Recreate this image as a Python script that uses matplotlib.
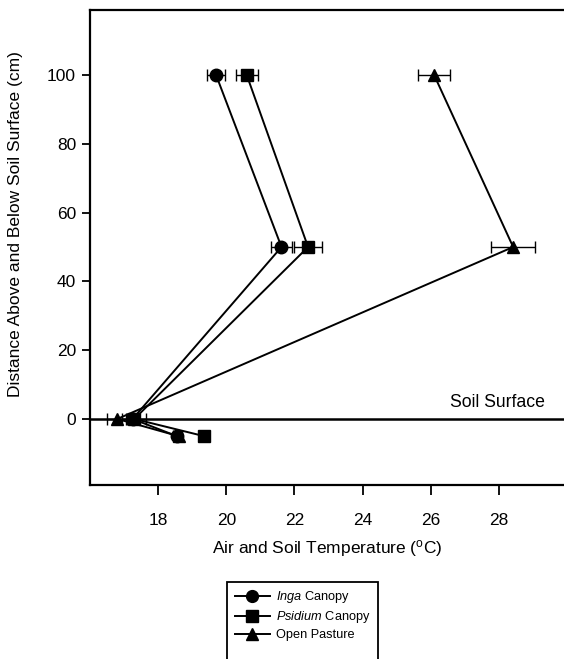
import matplotlib
matplotlib.use("Agg")
import matplotlib.pyplot as plt
from matplotlib.lines import Line2D
from matplotlib.patches import Rectangle

plt.rcParams['font.family'] = ['Liberation Sans', 'DejaVu Sans']
plt.rcParams['mathtext.fontset'] = 'custom'
plt.rcParams['mathtext.it'] = 'Liberation Sans:italic'
plt.rcParams['mathtext.rm'] = 'Liberation Sans'

depth = [100, 50, 0, -5]
inga = [19.7, 21.62, 17.25, 18.55]
inga_err = [0.26, 0.3, 0.2, 0.1]
psidium = [20.6, 22.4, 17.3, 19.35]
psidium_err = [0.32, 0.4, 0.35, 0.1]
pasture = [26.1, 28.42, 16.8, 18.6]
pasture_err = [0.48, 0.65, 0.3, 0.1]

xticks = [18, 20, 22, 24, 26, 28]
yticks = [0, 20, 40, 60, 80, 100]

W, H = 564, 659
fig = plt.figure(figsize=(W / 100, H / 100), dpi=100)
ax = fig.add_axes([90 / W, 1 - 485 / H, 477 / W, 475 / H])

series = [
    (inga, inga_err, 'o'),
    (psidium, psidium_err, 's'),
    (pasture, pasture_err, '^'),
]
handles = []
for vals, err, mk in series:
    ax.errorbar(vals, depth, xerr=err, color='black', marker=mk,
                markersize=9, lw=1.4, capsize=4, elinewidth=1.0,
                capthick=1.0, zorder=3)
    handles.append(Line2D([], [], color='black', marker=mk, markersize=8.5, lw=1.4))

ax.axhline(0, color='black', lw=1.8, zorder=2)
ax.text(29.34, 2.3, 'Soil Surface', ha='right', va='bottom', fontsize=12.7)

ax.set_xlim(16, 30)
ax.set_ylim(-19.2, 118.9)
ax.set_xticks(xticks)
ax.set_yticks(yticks)
ax.tick_params(axis='x', direction='out', length=7, width=1.3, labelsize=12.5, pad=13)
ax.tick_params(axis='y', direction='out', length=6, width=1.3, labelsize=12.5, pad=4)
for s in ax.spines.values():
    s.set_linewidth(1.6)
ax.spines['right'].set_visible(False)

ax.set_xlabel('Air and Soil Temperature ($^{\\mathrm{o}}$C)', fontsize=12.5)
ax.xaxis.set_label_coords(0.497, -0.112)
ax.set_ylabel('Distance Above and Below Soil Surface (cm)', fontsize=12.5)
ax.yaxis.set_label_coords(-0.14, 0.55)

labels = ['$\\mathit{Inga}$ Canopy', '$\\mathit{Psidium}$ Canopy', 'Open Pasture']
leg = fig.legend(handles, labels, loc='upper left',
                 bbox_to_anchor=(235 / W, 1 - 589 / H),
                 fontsize=9.2, frameon=False, borderpad=0, borderaxespad=0,
                 handlelength=2.7, labelspacing=0.32, handletextpad=0.5)
fig.patches.append(Rectangle((227 / W, -0.05), (378 - 227) / W, 0.05 + (H - 582) / H,
                             transform=fig.transFigure, fill=False,
                             edgecolor='black', lw=1.3))

fig.savefig('out.png', dpi=100)
